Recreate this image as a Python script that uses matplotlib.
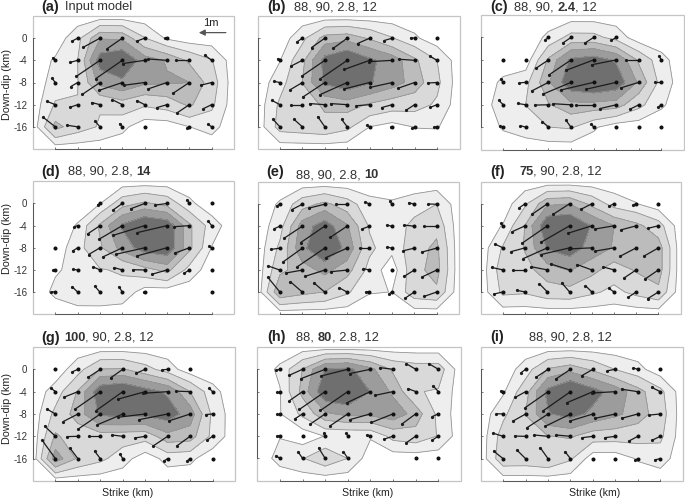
# Slip model comparison: nine panels of slip contours with slip vectors.
import numpy as np
import matplotlib
matplotlib.use("Agg")
from matplotlib import pyplot as plt
from matplotlib.patches import Rectangle

plt.rcParams["font.family"] = ["Liberation Sans", "DejaVu Sans"]

n = np.nan

# fault grid nodes (km)
strike_km = [0, 4, 8, 12, 16, 20, 24, 28]
dip_km = [0, -4, -8, -12, -16]
dip_labels = ["0", "-4", "-8", "-12", "-16"]

# slip components (m) at the nodes, rows follow dip_km, columns strike_km
a_east = [[n, -.21, -.62, -.56, -.29, -.08, n, n],
          [-.09, -.29, -.88, -.98, -.81, -.70, -.48, -.25],
          [-.12, -.25, -.65, -.85, -.75, -.70, -.60, -.40],
          [-.30, -.29, -.31, -.38, -.29, -.38, -.46, -.31],
          [-.46, -.40, -.18, -.10, 0, n, -.09, -.14]]
a_up = [[n, -.11, -.34, -.39, -.11, 0, n, n],
        [.10, -.08, -.60, -.68, -.12, .05, 0, .19],
        [.15, -.15, -.44, -.29, -.10, -.24, -.40, -.10],
        [.12, -.10, .08, .19, .15, -.11, -.31, -.15],
        [.36, .06, .21, .12, 0, n, -.06, .10]]

b_east = [[n, -.20, -.49, -.52, -.45, -.30, -.14, 0],
          [-.09, -.41, -.85, -1.0, -.94, -.84, -.56, -.26],
          [-.21, -.45, -.82, -1.02, -.94, -.80, -.60, -.35],
          [-.30, -.42, -.55, -.61, -.49, -.39, -.32, -.25],
          [-.26, -.31, -.26, -.21, -.09, -.04, -.10, -.12]]
b_up = [[n, -.14, -.35, -.38, -.20, -.09, .02, 0],
        [.05, -.21, -.59, -.69, -.34, -.05, .04, .15],
        [.04, -.27, -.55, -.46, -.24, -.18, -.21, -.02],
        [.16, 0, .04, .04, -.04, -.11, -.21, -.10],
        [.28, .28, .38, .28, .06, 0, -.06, -.02]]

c_east = [[n, n, -.12, -.31, -.31, -.19, n, n],
          [0, 0, -.46, -.82, -1.0, -.90, -.48, -.09],
          [-.10, -.24, -.62, -1.04, -1.19, -1.09, -.65, -.22],
          [-.16, -.30, -.50, -.66, -.65, -.60, -.32, -.11],
          [-.12, -.20, -.22, -.19, -.08, 0, 0, 0]]
c_up = [[n, n, -.09, -.21, -.20, -.11, n, n],
        [0, 0, -.31, -.56, -.38, -.18, 0, .14],
        [.11, -.02, -.32, -.44, -.28, -.25, -.20, 0],
        [.16, .05, -.01, .04, 0, -.14, -.16, -.08],
        [.05, .06, .20, .26, .11, 0, 0, 0]]

d_east = [[n, n, -.09, -.35, -.52, -.44, -.09, 0],
          [n, -.12, -.46, -.85, -1.16, -1.10, -.56, -.12],
          [0, -.19, -.42, -.72, -1.06, -1.10, -.54, -.09],
          [-.09, -.16, -.26, -.31, -.44, -.56, -.19, 0],
          [-.15, -.20, -.19, -.12, -.02, n, n, 0]]
d_up = [[n, n, -.05, -.25, -.20, -.06, .12, 0],
        [n, -.04, -.31, -.50, -.36, -.26, -.04, .16],
        [0, -.12, -.25, -.34, -.24, -.30, -.20, .05],
        [0, .02, .12, .09, .01, -.16, -.12, 0],
        [.02, .20, .22, .20, 0, n, n, 0]]

e_east = [[-.12, -.38, -.56, -.40, -.15, -.08, -.20, -.30],
          [-.20, -.68, -.89, -.62, -.26, -.18, -.36, -.45],
          [-.34, -.71, -1.01, -.79, -.35, -.16, -.41, -.55],
          [-.44, -.61, -.74, -.60, -.22, 0, -.38, -.54],
          [-.44, -.44, -.39, -.29, -.12, -.09, -.35, -.45]]
e_up = [[-.06, -.20, -.14, 0, .09, .11, .06, .01],
        [-.09, -.46, -.62, -.42, -.10, .04, .04, 0],
        [-.05, -.52, -.70, -.36, 0, .04, -.10, -.15],
        [.16, -.11, -.24, -.06, .06, 0, -.24, -.26],
        [.55, .39, .34, .16, .01, -.06, -.24, -.16]]

f_east = [[n, -.22, -.56, -.60, -.41, -.19, -.11, 0],
          [-.08, -.48, -.95, -1.05, -.89, -.71, -.56, -.38],
          [-.29, -.52, -.89, -1.06, -.85, -.69, -.61, -.54],
          [-.41, -.45, -.61, -.70, -.55, -.40, -.45, -.51],
          [-.34, -.32, -.30, -.29, -.24, -.20, -.30, -.40]]
f_up = [[n, -.15, -.39, -.39, -.21, -.09, -.04, 0],
        [.09, -.22, -.66, -.61, -.28, -.12, -.15, -.09],
        [.14, -.14, -.40, -.25, -.04, -.12, -.32, -.31],
        [.09, 0, .12, .22, .20, .11, -.30, -.35],
        [-.08, .06, .31, .34, .24, .14, -.20, -.25]]

g_east = [[0, -.20, -.44, -.44, -.35, -.20, 0, n],
          [-.15, -.50, -.92, -.98, -1.02, -.91, -.52, -.12],
          [-.31, -.54, -.82, -.94, -1.0, -1.06, -.79, -.25],
          [-.40, -.40, -.42, -.40, -.38, -.54, -.50, -.20],
          [-.49, -.29, -.21, -.10, n, -.15, -.12, 0]]
g_up = [[0, -.09, -.29, -.31, -.15, -.02, 0, n],
        [.12, -.20, -.64, -.70, -.28, -.06, .02, .12],
        [.18, -.28, -.56, -.40, -.12, -.21, -.26, -.02],
        [.38, -.01, 0, .05, -.06, -.36, -.36, -.14],
        [.68, .39, .28, .16, n, -.09, -.09, 0]]

h_east = [[-.14, -.48, -.89, -.98, -.76, -.48, -.35, -.35],
          [-.10, -.48, -.94, -1.0, -.85, -.66, -.29, -.19],
          [-.10, -.29, -.56, -.64, -.74, -.79, -.51, -.22],
          [-.10, 0, -.06, -.06, -.12, -.35, -.35, -.24],
          [-.14, -.16, -.24, -.16, n, n, 0, 0]]
h_up = [[-.04, -.22, -.35, -.25, -.16, .06, .21, .21],
        [0, -.34, -.66, -.70, -.41, -.14, .11, .21],
        [0, -.19, -.39, -.44, -.21, -.32, -.38, -.10],
        [.02, 0, .10, .10, .05, -.12, -.25, -.16],
        [.10, .24, .39, .25, n, n, 0, 0]]

i_east = [[n, -.16, -.45, -.54, -.42, -.29, -.16, 0],
          [-.08, -.38, -.84, -1.01, -.96, -.85, -.59, -.32],
          [-.25, -.46, -.78, -.94, -.85, -.75, -.60, -.41],
          [-.38, -.40, -.51, -.54, -.40, -.39, -.34, -.31],
          [-.35, -.31, -.29, -.20, 0, 0, -.11, -.19]]
i_up = [[n, -.12, -.30, -.36, -.24, -.05, .05, 0],
        [.02, -.21, -.59, -.71, -.41, -.05, .09, .16],
        [.01, -.26, -.51, -.46, -.26, -.16, -.16, -.04],
        [.12, .01, .05, .05, -.05, -.05, -.18, -.15],
        [.28, .31, .41, .26, 0, 0, -.06, -.04]]

# title pieces as (text, bold)
a_title = [("Input model", False)]
b_title = [("88, 90, 2.8, 12", False)]
c_title = [("88, 90, ", False), ("2.4", True), (", 12", False)]
d_title = [("88, 90, 2.8, ", False), ("14", True)]
e_title = [("88, 90, 2.8, ", False), ("10", True)]
f_title = [("75", True), (", 90, 2.8, 12", False)]
g_title = [("100", True), (", 90, 2.8, 12", False)]
h_title = [("88, ", False), ("80", True), (", 2.8, 12", False)]
i_title = [("88, 90, 2.8, 12", False)]

slip_levels = [0.11, 0.30, 0.52, 0.72, 0.95, 9]
slip_colors = ["#eeeeee", "#d9d9d9", "#bcbcbc", "#9c9c9c", "#6f6f6f"]
KM_PER_M = 4.84  # vector scale on the plot

W, H = 685, 500
fig = plt.figure(figsize=(W / 100, H / 100), dpi=100)
renderer = fig.canvas.get_renderer()


def _text_width(s, **kw):
    # the bar keeps trailing blanks in the measure
    t = fig.text(0, 0, s + "|", **kw)
    w = t.get_window_extent(renderer).width
    t.set_text("|")
    w -= t.get_window_extent(renderer).width
    t.remove()
    return w


def draw_title(tag, tag_x, tag_y, pieces, text_x, text_y):
    fig.text(tag_x / W, 1 - tag_y / H, tag, fontsize=10.4, fontweight="bold",
             color="#222222", va="center")
    x = text_x
    for s, bold in pieces:
        kw = dict(fontsize=9.3, fontweight="bold" if bold else "normal")
        fig.text(x / W, 1 - text_y / H, s, color="#333333", va="center", **kw)
        x += _text_width(s, **kw)


def draw_panel(box, east, up, left=False):
    x0, y0, x1, y1 = box
    ax = fig.add_axes([x0 / W, 1 - y1 / H, (x1 - x0) / W, (y1 - y0) / H])
    u = np.array(east, dtype=float)
    v = np.array(up, dtype=float)

    # slip falls to zero on a ring of nodes round the grid
    z = np.pad(np.nan_to_num(np.hypot(u, v)), 1)
    gx = [strike_km[0] - 4] + strike_km + [strike_km[-1] + 4]
    gy = [dip_km[0] + 4] + dip_km + [dip_km[-1] - 4]
    ax.contourf(gx, gy, z, levels=slip_levels, colors=slip_colors, zorder=1)
    ax.contour(gx, gy, z, levels=slip_levels[:-1], colors="#949494",
               linewidths=0.6, zorder=2)

    for j, yy in enumerate(dip_km):
        for i, xx in enumerate(strike_km):
            if np.isnan(u[j, i]):
                continue
            ex = xx + KM_PER_M * u[j, i]
            ey = yy + KM_PER_M * v[j, i]
            ax.plot([xx, ex], [yy, ey], color="#1c1c1c", lw=0.9, zorder=3,
                    solid_capstyle="round")
            ax.plot([ex], [ey], "o", color="#1c1c1c", ms=2.3, mew=0, zorder=4)
            ax.plot([xx], [yy], "o", color="#111111", ms=2.9, mew=0, zorder=4)

    ax.set_xlim(-4, 32)
    ax.set_ylim(-20, 4)
    ax.set_xticks(strike_km)
    ax.set_xticklabels([])
    ax.set_yticks(dip_km)
    ax.set_yticklabels(dip_labels if left else [])
    ax.tick_params(direction="in", length=1.5, width=0.6, color="#555555",
                   labelsize=7, labelcolor="#333333", pad=4)
    for side in ["top", "right"]:
        ax.spines[side].set_visible(False)
    ax.spines["left"].set_bounds(-16, 0)
    ax.spines["bottom"].set_bounds(0, 28)
    for side in ["left", "bottom"]:
        ax.spines[side].set_color("#555555")
        ax.spines[side].set_linewidth(0.7)
        ax.spines[side].set_zorder(6)
    ax.add_patch(Rectangle((0, 0), 1, 1, transform=ax.transAxes, fill=False,
                           ec="#c4c4c4", lw=0.9, zorder=5, clip_on=False))
    return ax


ax_a = draw_panel((33, 16, 234, 149), a_east, a_up, left=True)
draw_panel((257.5, 16, 459.5, 149), b_east, b_up)
draw_panel((480.7, 15, 684, 149.7), c_east, c_up)
draw_panel((33, 181.3, 234, 314.3), d_east, d_up, left=True)
draw_panel((257.5, 182.3, 459, 314), e_east, e_up)
draw_panel((480.7, 181.7, 680.7, 314), f_east, f_up)
draw_panel((33, 347, 235, 481), g_east, g_up, left=True)
draw_panel((257.3, 347, 461, 480.7), h_east, h_up)
draw_panel((480.7, 347, 682.7, 481), i_east, i_up)

draw_title("(a)", 41, 7, a_title, 65, 7)
draw_title("(b)", 267, 7, b_title, 294, 8)
draw_title("(c)", 490, 7, c_title, 514, 8)
draw_title("(d)", 41, 172, d_title, 68, 172)
draw_title("(e)", 266, 172, e_title, 296, 175)
draw_title("(f)", 490, 172, f_title, 519, 172)
draw_title("(g)", 41, 338, g_title, 64, 338)
draw_title("(h)", 267, 337, h_title, 296, 338)
draw_title("(i)", 490, 337, i_title, 529, 338)

# y labels
for yc in [85, 239, 408]:
    fig.text(7 / W, 1 - yc / H, "Down-dip (km)", rotation=90, fontsize=7.8,
             color="#222222", ha="center", va="center")
# x labels
for xc in [128, 368, 595]:
    fig.text(xc / W, 1 - 493 / H, "Strike (km)", fontsize=7.6,
             color="#222222", ha="center", va="center")

# 1 m scale arrow
ax_a.annotate("", xy=(25.7, 1.0), xytext=(25.7 + KM_PER_M, 1.0), zorder=7,
              arrowprops=dict(arrowstyle="-|>", color="#555555", lw=0.9,
                              mutation_scale=9, shrinkA=0, shrinkB=0))
ax_a.text(27.9, 2.7, "1m", fontsize=8, color="#222222", ha="center", va="center")

fig.savefig("out.png", dpi=100)
